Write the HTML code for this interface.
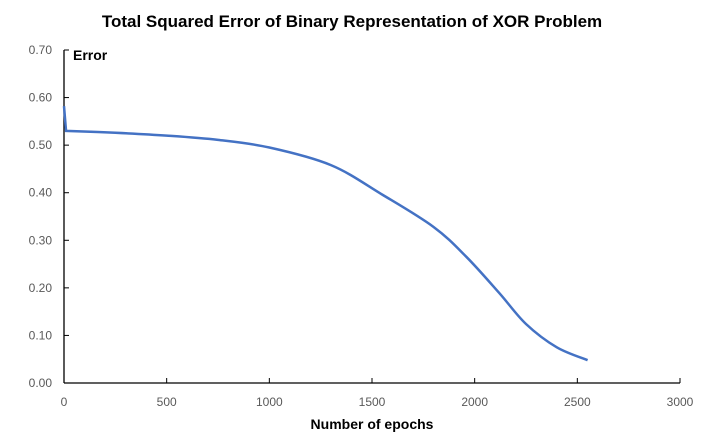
<!DOCTYPE html>
<html><head><meta charset="utf-8">
<style>
body{margin:0;background:#fff;font-family:"Liberation Sans",sans-serif;}
svg{display:block}
</style></head>
<body>
<svg id="chart" width="705" height="434">
<text x="352" y="27" text-anchor="middle" font-size="17" font-weight="bold" fill="#000">Total Squared Error of Binary Representation of XOR Problem</text>
<text x="73" y="60" font-size="14" font-weight="bold" fill="#000">Error</text>
<text x="372" y="429" text-anchor="middle" font-size="14" font-weight="bold" fill="#000">Number of epochs</text>
<g id="axes"></g>
<path id="line" fill="none" stroke="#4472C4" stroke-width="2.5"/>
</svg>
<script>
const epochs=[0,10,250,500,750,1000,1300,1550,1800,1960,2120,2250,2400,2550];
const errors=[0.582,0.530,0.526,0.520,0.511,0.495,0.458,0.396,0.328,0.265,0.189,0.124,0.075,0.048];
const xTicks=[0,500,1000,1500,2000,2500,3000];
const yTicks=[0,0.1,0.2,0.3,0.4,0.5,0.6,0.7];
const X0=64,X1=680,Y0=383,Y1=50;
function sx(v){return X0+(v/3000)*(X1-X0);}
function sy(v){return Y0-(v/0.7)*(Y0-Y1);}
const ns="http://www.w3.org/2000/svg";
const g=document.getElementById('axes');
function mk(t,a){const e=document.createElementNS(ns,t);for(const k in a)e.setAttribute(k,a[k]);g.appendChild(e);return e;}
let ax=mk('line',{x1:X0,y1:Y0,x2:X1,y2:Y0,stroke:'#000','stroke-width':1.3});


let ay=mk('line',{x1:X0,y1:Y0,x2:X0,y2:Y1,stroke:'#000','stroke-width':1.3});


xTicks.forEach(t=>{
  mk('line',{x1:sx(t),y1:Y0,x2:sx(t),y2:Y0-5,stroke:'#000','stroke-width':1});
  const tx=mk('text',{x:sx(t),y:Y0+23,'text-anchor':'middle','font-size':12,fill:'#595959'});
  tx.textContent=t;
  
  
});
yTicks.forEach(t=>{
  mk('line',{x1:X0,y1:sy(t),x2:X0+5,y2:sy(t),stroke:'#000','stroke-width':1});
  const tx=mk('text',{x:X0-12,y:sy(t)+4,'text-anchor':'end','font-size':12,fill:'#595959'});
  tx.textContent=t.toFixed(2);
  
  
});
const P=epochs.map((e,i)=>[sx(e),sy(errors[i])]);
let d='M'+P[0][0]+','+P[0][1]+' L'+P[1][0]+','+P[1][1];
for(let i=1;i<P.length-1;i++){
  const p0=P[i-1<1?1:i-1],p1=P[i],p2=P[i+1],p3=P[i+2]||P[i+1];
  const c1=[p1[0]+(p2[0]-p0[0])/6,p1[1]+(p2[1]-p0[1])/6];
  const c2=[p2[0]-(p3[0]-p1[0])/6,p2[1]-(p3[1]-p1[1])/6];
  d+=' C'+c1+' '+c2+' '+p2;
}
document.getElementById('line').setAttribute('d',d);
</script>
</body></html>
